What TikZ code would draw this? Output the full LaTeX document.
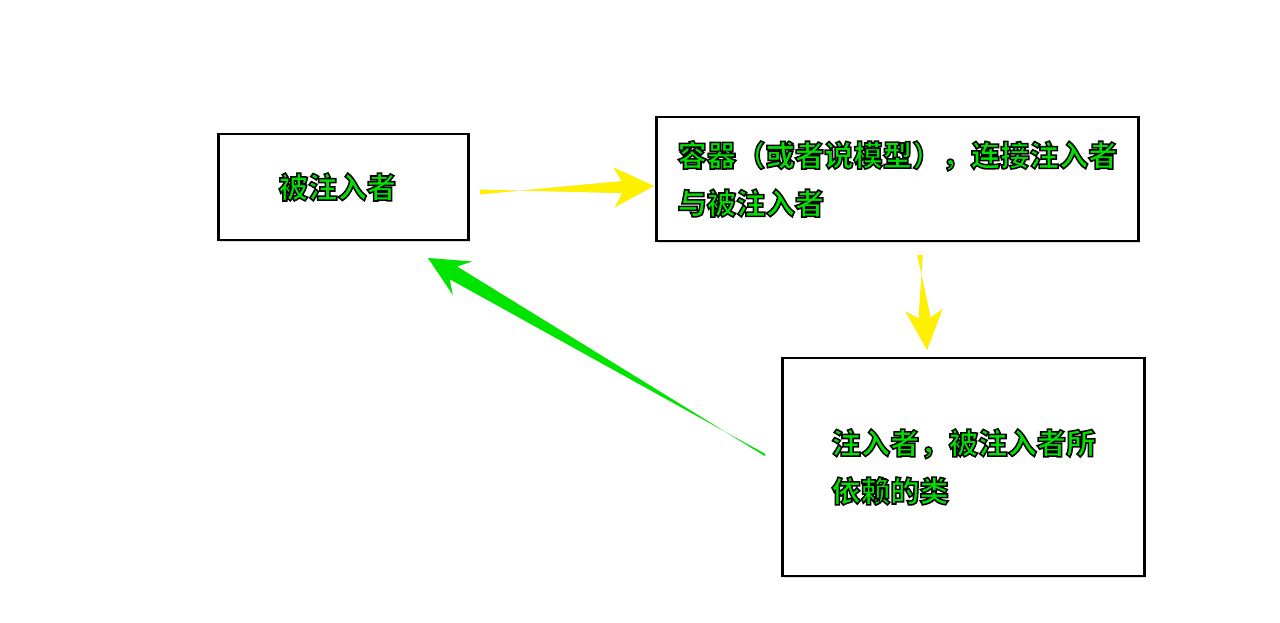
\documentclass[tikz,border=0pt]{standalone}
\usepackage{fontspec}
\newfontfamily\cjk{Noto Sans CJK SC}
\usetikzlibrary{calc,shadows}
\definecolor{arrowyellow}{RGB}{255,240,0}
\definecolor{arrowgreen}{RGB}{0,228,0}
\definecolor{textgreen}{RGB}{0,225,0}
\newcommand\outlined[1]{{\color{textgreen}\special{pdf:literal direct 2 Tr 0 0 0 RG 1.15 w}#1\special{pdf:literal direct 0 Tr 0.4 w}}}
% tail, tip, tail half width, shaft half width, junction dist, head length, head half width, colour
\newcommand\taperarrow[8]{%
  \fill[black,opacity=0.12,shift={(1.2pt,-1.2pt)}]
    ($(#1)!#3!90:(#2)$) -- ($($(#2)!#5!(#1)$)!#4!-90:(#2)$) -- ($($(#2)!#6!(#1)$)!#7!-90:(#2)$)
    -- (#2) -- ($($(#2)!#6!(#1)$)!#7!90:(#2)$) -- ($($(#2)!#5!(#1)$)!#4!90:(#2)$)
    -- ($(#1)!#3!-90:(#2)$) -- cycle;
  \fill[#8]
    ($(#1)!#3!90:(#2)$) -- ($($(#2)!#5!(#1)$)!#4!-90:(#2)$) -- ($($(#2)!#6!(#1)$)!#7!-90:(#2)$)
    -- (#2) -- ($($(#2)!#6!(#1)$)!#7!90:(#2)$) -- ($($(#2)!#5!(#1)$)!#4!90:(#2)$)
    -- ($(#1)!#3!-90:(#2)$) -- cycle;}
\tikzset{
  box/.style={draw=black, line width=2.2pt, fill=white, inner sep=0pt, align=left,
    drop shadow={shadow xshift=1.2pt, shadow yshift=-1.2pt, opacity=0.3},
    font=\cjk\bfseries\fontsize{22}{35}\selectfont},
}
\begin{document}
\begin{tikzpicture}[x=0.75pt,y=-0.75pt]
\useasboundingbox (0,0) rectangle (1280,623);
\node[box, minimum width=188pt, minimum height=79.5pt] (inj) at (343.5,187) {\outlined{被注入者}\hspace*{9pt}};
\node[box, minimum width=362pt, minimum height=93pt] (cont) at (897.5,179) {\outlined{容器（或者说模型），连接注入者}\\[1pt]\outlined{与被注入者}};
\node[box, minimum width=271pt, minimum height=163.5pt] (dep) at (963.5,467) {\outlined{注入者，被注入者所}\\[1pt]\outlined{依赖的类}};
\coordinate (a1t) at (480,192);
\coordinate (a1h) at (654,186);
\coordinate (a2t) at (920,255);
\coordinate (a2h) at (927,350);
\coordinate (a3t) at (765,455);
\coordinate (a3h) at (428,258);
\taperarrow{a1t}{a1h}{1.8pt}{4.5pt}{24pt}{30pt}{15pt}{arrowyellow}
\taperarrow{a2t}{a2h}{2pt}{4.5pt}{24pt}{30pt}{14pt}{arrowyellow}
\taperarrow{a3t}{a3h}{0.8pt}{5.5pt}{22pt}{30pt}{14.5pt}{arrowgreen}
\end{tikzpicture}
\end{document}
